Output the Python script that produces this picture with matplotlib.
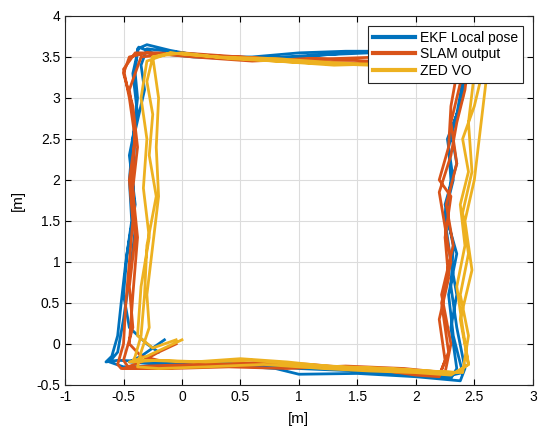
import numpy as np
import matplotlib.pyplot as plt

plt.rcParams['font.family'] = ['Liberation Sans', 'DejaVu Sans']

# trajectories (waypoints, metres)
ekf_x = [-0.15, -0.25, -0.35, -0.45, -0.2, 0.2, 0.4, 0.7, 1.0, 1.5, 2.0, 2.3, 2.35, 2.3, 2.35, 2.3, 2.25,
         2.3, 2.28, 2.35, 2.4, 2.42, 2.2, 1.8, 1.4, 1.0, 0.6, 0.2, -0.1, -0.3, -0.38, -0.4, -0.38, -0.42,
         -0.45, -0.43, -0.48, -0.52, -0.55, -0.6, -0.65, -0.55, -0.2, 0.3, 0.8, 1.0, 1.5, 2.0, 2.38, 2.42,
         2.35, 2.3, 2.32, 2.25, 2.35, 2.3, 2.4, 2.45, 2.0, 1.5, 1.0, 0.5, 0.0, -0.3, -0.35, -0.32, -0.4,
         -0.42, -0.4, -0.45, -0.5, -0.55, -0.62, -0.5, -0.1, 0.4, 0.9, 1.3, 1.8, 2.25, 2.4, 2.32, 2.28,
         2.35, 2.25, 2.32, 2.27, 2.38, 2.45, 2.1, 1.6, 1.1, 0.6, 0.1, -0.25, -0.37, -0.42, -0.38, -0.45,
         -0.4, -0.47, -0.5, -0.45, -0.3, -0.2]
ekf_y = [0.05, -0.05, -0.15, -0.22, -0.25, -0.24, -0.22, -0.26, -0.3, -0.33, -0.38, -0.42, -0.3, 0.2,
         0.6, 1.0, 1.5, 2.0, 2.4, 2.8, 3.2, 3.5, 3.55, 3.57, 3.57, 3.55, 3.5, 3.5, 3.58, 3.65, 3.6, 3.3,
         3.0, 2.5, 2.0, 1.5, 1.0, 0.5, 0.1, -0.15, -0.22, -0.2, -0.22, -0.25, -0.3, -0.37, -0.36, -0.4,
         -0.45, -0.3, 0.2, 0.7, 1.2, 1.7, 2.2, 2.6, 3.0, 3.5, 3.55, 3.56, 3.5, 3.48, 3.55, 3.6, 3.4, 3.1,
         2.6, 2.0, 1.4, 0.8, 0.3, -0.1, -0.22, -0.28, -0.27, -0.25, -0.28, -0.3, -0.35, -0.4, -0.35, 0.1,
         0.6, 1.1, 1.6, 2.0, 2.5, 2.9, 3.45, 3.55, 3.55, 3.52, 3.47, 3.5, 3.55, 3.62, 3.3, 2.8, 2.3, 1.7,
         1.1, 0.6, 0.2, 0.0, -0.1]

slam_x = [-0.05, -0.2, -0.35, -0.5, -0.3, 0.1, 0.5, 0.9, 1.3, 1.7, 2.0, 2.2, 2.25, 2.2, 2.28, 2.25,
          2.3, 2.2, 2.28, 2.3, 2.35, 2.4, 2.1, 1.7, 1.3, 0.9, 0.5, 0.1, -0.2, -0.4, -0.5, -0.45, -0.4,
          -0.45, -0.42, -0.45, -0.48, -0.5, -0.55, -0.52, -0.2, 0.3, 0.7, 1.1, 1.5, 1.9, 2.2, 2.28, 2.22,
          2.3, 2.2, 2.3, 2.35, 2.42, 2.45, 2.1, 1.6, 1.1, 0.6, 0.1, -0.3, -0.45, -0.5, -0.42, -0.38,
          -0.42, -0.4, -0.45, -0.42, -0.5, -0.45, -0.1, 0.4, 0.9, 1.4, 1.9, 2.25, 2.3, 2.22, 2.32, 2.26,
          2.35, 2.3, 2.4, 2.0, 1.5, 1.0, 0.5, 0.0, -0.35, -0.45, -0.4, -0.43, -0.38, -0.42, -0.45,
          -0.35, -0.2]
slam_y = [0.0, -0.1, -0.22, -0.3, -0.27, -0.25, -0.24, -0.26, -0.28, -0.32, -0.38, -0.4, -0.2, 0.3,
          0.8, 1.3, 1.8, 2.0, 2.4, 2.9, 3.3, 3.5, 3.52, 3.5, 3.48, 3.47, 3.5, 3.52, 3.55, 3.55, 3.35, 3.0,
          2.5, 2.0, 1.5, 1.0, 0.5, 0.0, -0.25, -0.3, -0.3, -0.26, -0.22, -0.25, -0.3, -0.35, -0.38, -0.1,
          0.5, 1.0, 1.85, 2.3, 2.7, 3.1, 3.45, 3.5, 3.45, 3.48, 3.45, 3.5, 3.55, 3.5, 3.3, 2.9, 2.4, 1.9,
          1.3, 0.7, 0.2, -0.2, -0.3, -0.3, -0.28, -0.3, -0.27, -0.3, -0.35, 0.0, 0.6, 1.2, 1.7, 2.2,
          2.7, 3.3, 3.45, 3.42, 3.45, 3.5, 3.55, 3.5, 3.1, 2.6, 2.0, 1.3, 0.6, 0.0, -0.15, -0.2]

zed_x = [0.0, -0.15, -0.3, -0.45, -0.2, 0.2, 0.6, 1.0, 1.4, 1.8, 2.1, 2.35, 2.45, 2.4, 2.35, 2.42,
         2.38, 2.45, 2.4, 2.5, 2.55, 2.6, 2.4, 2.0, 1.6, 1.2, 0.8, 0.4, 0.0, -0.25, -0.3, -0.25, -0.28,
         -0.22, -0.3, -0.32, -0.35, -0.4, -0.42, -0.3, 0.1, 0.5, 0.9, 1.3, 1.7, 2.1, 2.4, 2.45, 2.38,
         2.45, 2.4, 2.48, 2.45, 2.5, 2.2, 1.8, 1.3, 0.8, 0.3, -0.1, -0.25, -0.2, -0.22, -0.2, -0.25,
         -0.3, -0.28, -0.35, -0.38, -0.2, 0.2, 0.7, 1.2, 1.6, 2.0, 2.3, 2.45, 2.38, 2.48, 2.42, 2.5,
         2.55, 2.6, 2.3, 1.8, 1.3, 0.8, 0.3, -0.1, -0.3, -0.35, -0.3, -0.33, -0.28, -0.35, -0.38,
         -0.25, -0.05]
zed_y = [0.05, -0.05, -0.15, -0.22, -0.2, -0.22, -0.2, -0.25, -0.28, -0.3, -0.33, -0.35, -0.25, 0.2,
         0.7, 1.2, 1.7, 2.1, 2.5, 2.9, 3.2, 3.45, 3.45, 3.42, 3.4, 3.42, 3.45, 3.48, 3.55, 3.5, 3.2, 2.8,
         2.3, 1.8, 1.2, 0.6, 0.1, -0.15, -0.22, -0.2, -0.22, -0.18, -0.22, -0.28, -0.3, -0.33, -0.35,
         0.1, 0.6, 1.1, 1.6, 2.1, 2.7, 3.3, 3.42, 3.4, 3.43, 3.48, 3.5, 3.55, 3.5, 3.0, 2.4, 1.8, 1.2,
         0.6, 0.2, -0.1, -0.28, -0.3, -0.28, -0.25, -0.3, -0.33, -0.35, -0.38, -0.25, 0.3, 0.9, 1.5,
         2.0, 2.6, 3.2, 3.4, 3.42, 3.4, 3.45, 3.5, 3.55, 3.45, 3.0, 2.5, 1.9, 1.3, 0.7, 0.1, -0.05,
         0.05]

fig = plt.figure(figsize=(5.42, 4.32), dpi=100)
ax = fig.add_axes([0.12, 0.109, 0.863, 0.854])

ax.plot(ekf_x, ekf_y, color='#0072BD', lw=2.0, label='EKF Local pose')
ax.plot(slam_x, slam_y, color='#D95319', lw=2.0, label='SLAM output')
ax.plot(zed_x, zed_y, color='#EDB120', lw=2.0, label='ZED VO')

ax.set_xlim(-1, 3)
ax.set_ylim(-0.5, 4)
ax.set_xticks(np.arange(-1, 3.01, 0.5))
ax.set_yticks(np.arange(-0.5, 4.01, 0.5))
ax.set_xticklabels(['-1', '-0.5', '0', '0.5', '1', '1.5', '2', '2.5', '3'])
ax.set_yticklabels(['-0.5', '0', '0.5', '1', '1.5', '2', '2.5', '3', '3.5', '4'])
ax.grid(True, color='#dcdcdc', lw=0.8)
ax.set_axisbelow(True)
ax.tick_params(direction='in', top=True, right=True, labelsize=10, length=4)
for s in ax.spines.values():
    s.set_color('#262626')
ax.set_xlabel('[m]', fontsize=11, labelpad=6)
ax.set_ylabel('[m]', fontsize=11, labelpad=8)

leg = ax.legend(loc='upper right', fontsize=10, handlelength=3.0, borderaxespad=0.7,
                fancybox=False, framealpha=1, edgecolor='#262626', labelspacing=0.2,
                borderpad=0.35, handletextpad=0.4)
for line in leg.get_lines():
    line.set_linewidth(3)
leg.get_frame().set_linewidth(0.8)

fig.savefig('out.png', dpi=100)
